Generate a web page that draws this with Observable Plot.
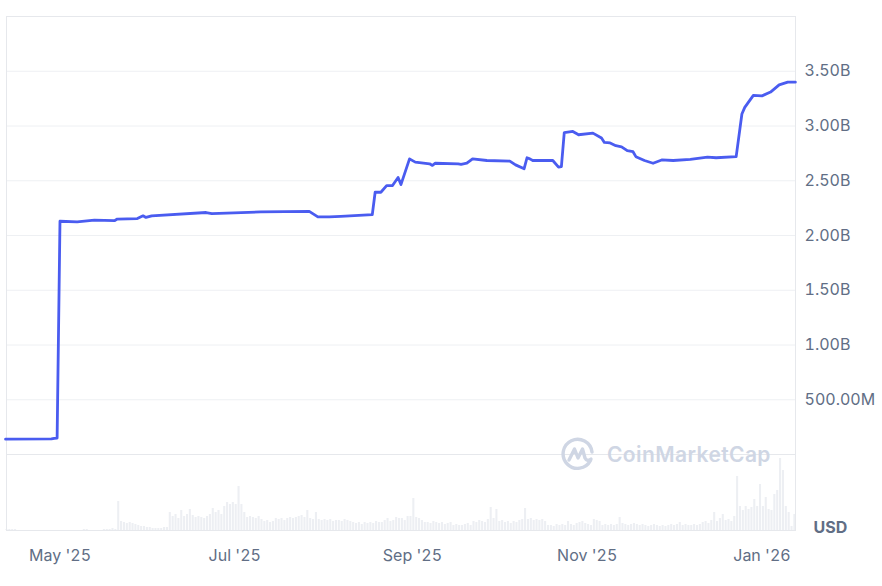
<!DOCTYPE html>
<html>
<head>
<meta charset="utf-8">
<script src="https://cdn.jsdelivr.net/npm/d3@7"></script>
<script src="https://cdn.jsdelivr.net/npm/@observablehq/plot@0.6"></script>
<style>
  body { margin: 0; background: #fff; }
  #chart { position: relative; width: 882px; height: 586px; font-family: Inter, sans-serif; }
  #chart svg { display: block; }
  .watermark { position: absolute; left: 561px; top: 437px; display: flex; align-items: center; gap: 12px;
    color: #cfd6e4; font: 600 21px Inter, sans-serif; letter-spacing: 0.4px; pointer-events: none; }
</style>
</head>
<body>
<div id="chart"></div>
<script>

// market cap line (billions USD)
const lineDates = [
  "2025-04-12", "2025-04-28", "2025-04-29", "2025-04-30", "2025-05-01", "2025-05-07", "2025-05-13",
  "2025-05-20", "2025-05-21", "2025-05-28", "2025-05-30", "2025-05-31", "2025-06-02", "2025-06-21",
  "2025-06-23", "2025-07-10", "2025-07-27", "2025-07-30", "2025-08-03", "2025-08-07", "2025-08-18",
  "2025-08-19", "2025-08-21", "2025-08-23", "2025-08-25", "2025-08-27", "2025-08-28", "2025-08-31",
  "2025-09-02", "2025-09-07", "2025-09-08", "2025-09-09", "2025-09-17", "2025-09-18", "2025-09-20",
  "2025-09-22", "2025-09-27", "2025-10-05", "2025-10-07", "2025-10-10", "2025-10-11", "2025-10-12",
  "2025-10-13", "2025-10-20", "2025-10-22", "2025-10-23", "2025-10-24", "2025-10-27", "2025-10-29",
  "2025-11-03", "2025-11-06", "2025-11-07", "2025-11-09", "2025-11-11", "2025-11-13", "2025-11-15",
  "2025-11-17", "2025-11-18", "2025-11-21", "2025-11-24", "2025-11-27", "2025-12-01", "2025-12-07",
  "2025-12-13", "2025-12-16", "2025-12-23", "2025-12-25", "2025-12-26", "2025-12-29", "2026-01-01",
  "2026-01-04", "2026-01-07", "2026-01-10", "2026-01-12T16:00"
];
const lineValues = [
  0.140, 0.142, 0.148, 0.150, 2.130, 2.125, 2.140,
  2.135, 2.150, 2.155, 2.180, 2.165, 2.180, 2.210,
  2.200, 2.215, 2.220, 2.170, 2.170, 2.175, 2.190,
  2.395, 2.395, 2.455, 2.455, 2.530, 2.465, 2.700,
  2.670, 2.655, 2.640, 2.660, 2.655, 2.650, 2.660,
  2.700, 2.685, 2.680, 2.645, 2.610, 2.710, 2.700,
  2.685, 2.685, 2.625, 2.630, 2.940, 2.950, 2.920,
  2.935, 2.890, 2.850, 2.845, 2.820, 2.810, 2.775,
  2.765, 2.720, 2.685, 2.660, 2.690, 2.685, 2.695,
  2.715, 2.710, 2.720, 3.110, 3.170, 3.280, 3.275,
  3.310, 3.375, 3.400, 3.400
];

// daily volume, one value per day from volumeStart (rough estimate, millions USD)
const volumeStart = "2025-04-12";
const volumeM = [
  1, 1, 1, 1, 0, 0, 0, 0, 0, 0, 0, 0, 0, 0, 0, 0, 0, 0, 0,
  0, 0, 0, 0, 0, 0, 0, 0, 1, 1, 0, 0, 0, 0, 0, 1, 1, 1, 2, 1,
  29, 9, 8, 7, 8, 7, 6,
  5, 4, 4, 3, 3, 2, 2, 2, 2, 3,
  3,
  18, 14, 16, 12, 20, 14, 16, 21, 15, 13, 14, 13, 12, 14, 16,
  22, 18, 20, 16, 24, 28, 26, 28, 26,
  44, 26, 18,
  13, 14, 13, 12, 14, 11, 9, 10, 8, 9,
  12, 11, 12, 10, 12, 13, 12, 13, 14, 15, 13,
  20, 12, 11, 18, 11, 10, 11, 10, 11, 9, 10,
  10, 9, 11, 10, 9, 8, 7, 8, 6, 8, 7,
  8, 7, 9, 8, 8, 10, 12, 9, 10, 13, 12, 12, 10, 14, 14,
  32, 13, 12, 10,
  8, 8, 7, 9, 8, 7, 8, 6, 7, 8,
  5, 6, 5, 5, 6, 7, 5, 9, 8, 10, 9, 8, 11,
  23, 12, 21, 9, 10, 8, 9, 7, 9, 8, 10, 11,
  22, 11, 12, 10, 11, 10, 11, 9,
  5, 5, 4, 6, 5, 6, 5, 9, 6, 5, 7, 8, 9, 7, 6, 5,
  11, 10, 9, 5, 6, 5, 6, 5, 6,
  13, 7, 6, 5, 6, 7, 6, 5, 6, 5, 4, 5, 6, 5, 4,
  5, 4, 5, 6, 5, 6, 8, 5, 6, 5,
  5, 6, 5, 6, 8, 9, 7, 10, 18, 9, 12, 16, 10, 11, 9, 14,
  54, 24, 20, 24, 21, 23, 31, 24, 46, 24, 33, 21, 20, 36,
  40, 72, 60, 24, 18, 4, 16
];

const yTicks = [0.5e9, 1e9, 1.5e9, 2e9, 2.5e9, 3e9, 3.5e9];
const yTickLabels = ["500.00M", "1.00B", "1.50B", "2.00B", "2.50B", "3.00B", "3.50B"];
const gridTicks = [0, 0.5e9, 1e9, 1.5e9, 2e9, 2.5e9, 3e9, 3.5e9];

const xTicks = ["2025-05-01", "2025-07-01", "2025-09-01", "2025-11-01", "2026-01-01"];
const xTickLabels = ["May '25", "Jul '25", "Sep '25", "Nov '25", "Jan '26"];
const xDomain = ["2025-04-12T08:00", "2026-01-12T17:00"];

const parse = s => new Date(s + (s.length > 10 ? ":00Z" : "T00:00Z"));
const rows = lineDates.map((d, i) => ({date: parse(d), value: lineValues[i] * 1e9}));
const volRows = volumeM.map((v, i) => ({date: d3.utcDay.offset(parse(volumeStart), i), vol: v}));
const xDom = xDomain.map(parse);
const xTickDates = xTicks.map(parse);

const textColor = "#616e85";

let price = Plot.plot({
  width: 882,
  height: 454,
  marginTop: 16,
  marginBottom: 0,
  marginLeft: 6,
  marginRight: 87,
  style: {fontFamily: "Inter, sans-serif", fontSize: "16px", overflow: "visible"},
  x: {type: "utc", domain: xDom, axis: null},
  y: {domain: [0, 4e9], axis: null},
  marks: [
    Plot.gridY(gridTicks, {stroke: "#eef0f3", strokeOpacity: 1}),
    Plot.frame({stroke: "#e6e8ec"}),
    Plot.axisY(yTicks, {
      anchor: "right", tickSize: 0, tickPadding: 9, fill: textColor, label: null,
      tickFormat: d => yTickLabels[yTicks.indexOf(d)]
    }),
    Plot.line(rows, {x: "date", y: "value", stroke: "#4a5cf0", strokeWidth: 2.8, strokeLinejoin: "round"})
  ]
})

let volume = Plot.plot({
  width: 882,
  height: 132,
  marginTop: 0,
  marginBottom: 56,
  marginLeft: 6,
  marginRight: 87,
  style: {fontFamily: "Inter, sans-serif", fontSize: "16px", overflow: "visible"},
  x: {type: "utc", domain: xDom},
  y: {domain: [0, 76], axis: null},
  marks: [
    Plot.rectY(volRows, {x: "date", y: "vol", interval: "day", insetLeft: 0.4, insetRight: 0.4, fill: "#edeff3"}),
    Plot.frame({stroke: "#e6e8ec"}),
    Plot.axisX(xTickDates, {
      tickSize: 0, tickPadding: 19, fill: textColor, label: null,
      tickFormat: d => xTickLabels[xTickDates.findIndex(t => +t === +d)]
    }),
    Plot.text(["USD"], {frameAnchor: "bottom-right", textAnchor: "start", lineAnchor: "bottom", dx: 18, dy: 2,
      fill: textColor, fontWeight: 700, fontSize: 16})
  ]
})

d3.select('#chart').append(() => price)
d3.select('#chart').append(() => volume)

// CoinMarketCap watermark
d3.select('#chart').append('div').attr('class', 'watermark').html(
  `<svg width="34" height="34" viewBox="0 0 34 34" fill="none" stroke="#cfd6e4" stroke-width="3.4" stroke-linecap="round" stroke-linejoin="round">
     <path d="M29.5 23.5 A14.5 14.5 0 1 1 31 15"/>
     <path d="M8 23 L13.5 12 L17 21 L21.5 12 L24 21 Q26 25 30 22"/>
   </svg><span>CoinMarketCap</span>`
)

</script>
</body>
</html>
